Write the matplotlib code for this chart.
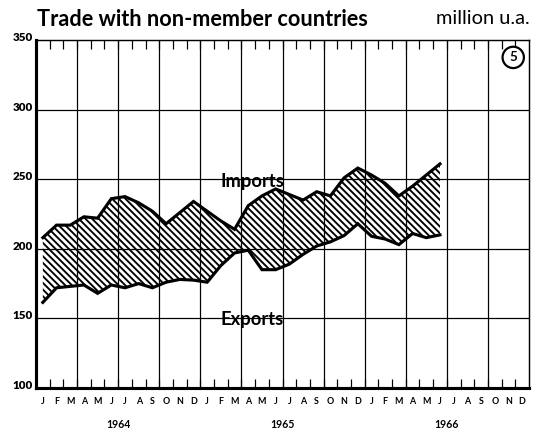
import numpy as np
import matplotlib
matplotlib.use("Agg")
import matplotlib.pyplot as plt
import matplotlib.transforms as mtransforms

# ---- data (million u.a., monthly Jan 1964 - Jun 1966) ----
imports = [208, 217, 217, 223, 222, 236, 237.5, 233, 227, 218, 226, 234,
           227, 220, 214, 231, 238, 243, 239, 235, 241, 238, 251, 258,
           253, 247, 238, 245, 253, 261]
exports = [161.5, 172, 173, 174, 168, 174, 172, 175, 172, 176, 178, 177.5,
           176, 188, 197, 199, 185, 185, 189, 196, 202, 205, 209.5, 218,
           209, 207, 203, 211, 208, 210]
month_labels = list("JFMAMJJASOND") * 3
years = ["1964", "1965", "1966"]
yticks = [100, 150, 200, 250, 300, 350]

DPI = 80
plt.rcParams['font.family'] = ['Lato', 'DejaVu Sans']
plt.rcParams['hatch.linewidth'] = 1.7
plt.rcParams['hatch.color'] = 'black'

fig = plt.figure(figsize=(534 / DPI, 433 / DPI), dpi=DPI)
ax = fig.add_axes([36 / 534, 1 - 388 / 433, 493 / 534, 348 / 433])

n_months = len(month_labels)
x = np.arange(len(imports)) + 0.5

ax.fill_between(x, exports, imports, facecolor='none', edgecolor='black',
                hatch='\\' * 4, linewidth=0, zorder=2)
ax.plot(x, imports, color='black', lw=2.8, solid_joinstyle='miter', zorder=3)
ax.plot(x, exports, color='black', lw=2.8, solid_joinstyle='miter', zorder=3)

ax.set_xlim(0, n_months)
ax.set_ylim(yticks[0], yticks[-1])

# gridlines
for yv in yticks[1:-1]:
    ax.axhline(yv, color='black', lw=1.1, zorder=1)
for q in range(3, n_months, 3):
    ax.axvline(q, color='black', lw=1.1, zorder=1)

# spines
for side in ['left', 'bottom']:
    ax.spines[side].set_linewidth(2.8)
for side in ['top', 'right']:
    ax.spines[side].set_linewidth(1.3)

# month labels as major ticks at month centres
ax.set_xticks(np.arange(n_months) + 0.5)
ax.set_xticklabels(month_labels, fontsize=8, fontweight='bold')
ax.tick_params(axis='x', which='major', length=0, pad=8)
# minor ticks at month boundaries (inward, top & bottom)
ax.set_xticks(np.arange(1, n_months), minor=True)
ax.tick_params(axis='x', which='minor', direction='in', length=8, width=1.1,
               top=True, bottom=True)

ax.set_yticks(yticks)
ax.set_yticklabels([str(v) for v in yticks])
ax.tick_params(axis='y', length=0, pad=3)
shift = mtransforms.ScaledTranslation(0, 3.5 / DPI, fig.dpi_scale_trans)
for lbl in ax.get_yticklabels():
    lbl.set_fontsize(10.5)
    lbl.set_fontweight('heavy')
    lbl.set_transform(lbl.get_transform() + shift)

# year labels
for k, yr in enumerate(years):
    ax.text(12 * k + 6, -0.105, yr, transform=ax.get_xaxis_transform(),
            ha='center', va='center', fontsize=9.5, fontweight='bold')

# series labels
ax.text(15.8, 248, "Imports", ha='center', va='center', fontsize=16.5,
        fontweight='bold', zorder=4)
ax.text(15.8, 149, "Exports", ha='center', va='center', fontsize=16.5,
        fontweight='bold', zorder=4)

# title & unit
fig.text(37 / 534, 1 - 19 / 433, "Trade with non-member countries",
         ha='left', va='center', fontsize=19.5, fontweight='bold')
fig.text(530 / 534, 1 - 19 / 433, "million u.a.", ha='right', va='center',
         fontsize=18)

# circled chart number
ax.annotate("5", xy=(0.968, 0.95), xycoords='axes fraction', ha='center',
            va='center', fontsize=12, fontweight='bold',
            bbox=dict(boxstyle='circle,pad=0.35', fc='white', ec='black', lw=2),
            zorder=5)

fig.savefig("out.png", dpi=DPI)
